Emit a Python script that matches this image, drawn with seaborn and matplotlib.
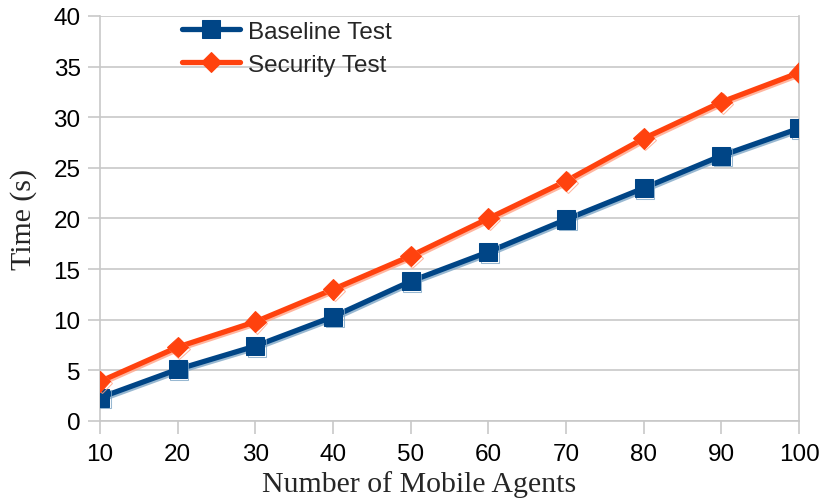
import matplotlib
matplotlib.use("Agg")
import matplotlib.pyplot as plt
import matplotlib.patheffects as pe
import pandas as pd
import seaborn as sns

# Number of mobile agents on the x axis
agents = [10, 20, 30, 40, 50, 60, 70, 80, 90, 100]
# Completion time in seconds for each test
baseline_time = [2.3, 5.1, 7.4, 10.3, 13.8, 16.7, 19.9, 23.0, 26.2, 28.9]
security_time = [3.9, 7.3, 9.8, 13.0, 16.3, 20.0, 23.7, 27.9, 31.5, 34.4]
series_names = ["Baseline Test", "Security Test"]
y_ticks = [0, 5, 10, 15, 20, 25, 30, 35, 40]
x_ticks = agents

df = pd.DataFrame({
    "agents": agents * 2,
    "time": baseline_time + security_time,
    "test": [series_names[0]] * len(agents) + [series_names[1]] * len(agents),
})

sns.set_theme(style="white")
plt.rcParams["font.family"] = ["Liberation Sans", "DejaVu Sans"]
serif = ["Liberation Serif", "DejaVu Serif"]

fig = plt.figure(figsize=(8.22, 5.02), dpi=100)
ax = fig.add_axes([0.1217, 0.1594, 0.8504, 0.8068])

colors = {"Baseline Test": "#004586", "Security Test": "#ff420e"}
shadows = {"Baseline Test": "#7fa6c6", "Security Test": "#ffa488"}
markers = {"Baseline Test": "s", "Security Test": "D"}
msizes = {"Baseline Test": 13, "Security Test": 10.5}

for name in series_names:
    sub = df[df["test"] == name]
    sns.lineplot(
        data=sub, x="agents", y="time", ax=ax, color=colors[name],
        marker=markers[name], markersize=msizes[name],
        markeredgecolor=colors[name], linewidth=3.8, label=name,
        path_effects=[pe.SimpleLineShadow(offset=(1.2, -1.2), shadow_color=shadows[name], alpha=0.8),
                      pe.Normal()],
        zorder=3,
    )

ax.set_xlim(10, 100)
ax.set_ylim(0, 40)
ax.set_xticks(x_ticks)
ax.set_yticks(y_ticks)
ax.yaxis.grid(True, color="#c8c8c8", linewidth=1.2)
ax.xaxis.grid(False)
ax.set_axisbelow(True)

for side in ["left", "right", "bottom"]:
    ax.spines[side].set_color("#c8c8c8")
    ax.spines[side].set_linewidth(1.2)
ax.spines["top"].set_visible(False)

ax.tick_params(axis="both", which="major", direction="out", length=9, width=1.2,
               color="#c8c8c8", labelsize=17.5, labelcolor="black",
               left=True, bottom=True)
ax.tick_params(axis="y", pad=5)
ax.tick_params(axis="x", pad=7)

ax.set_xlabel("Number of Mobile Agents", family=serif, fontsize=21.5)
ax.xaxis.set_label_coords(0.456, -0.12)
ax.set_ylabel("Time (s)", family=serif, fontsize=21.5)
ax.yaxis.set_label_coords(-0.09, 0.5)

leg = ax.legend(loc="upper left", bbox_to_anchor=(0.1173, 0.988), frameon=False,
                borderaxespad=0, borderpad=0,
                fontsize=17.5, handlelength=2.4, handletextpad=0.3, labelspacing=0.45)
for h in leg.legend_handles:
    h.set_path_effects([])

fig.savefig("out.png", dpi=100)
